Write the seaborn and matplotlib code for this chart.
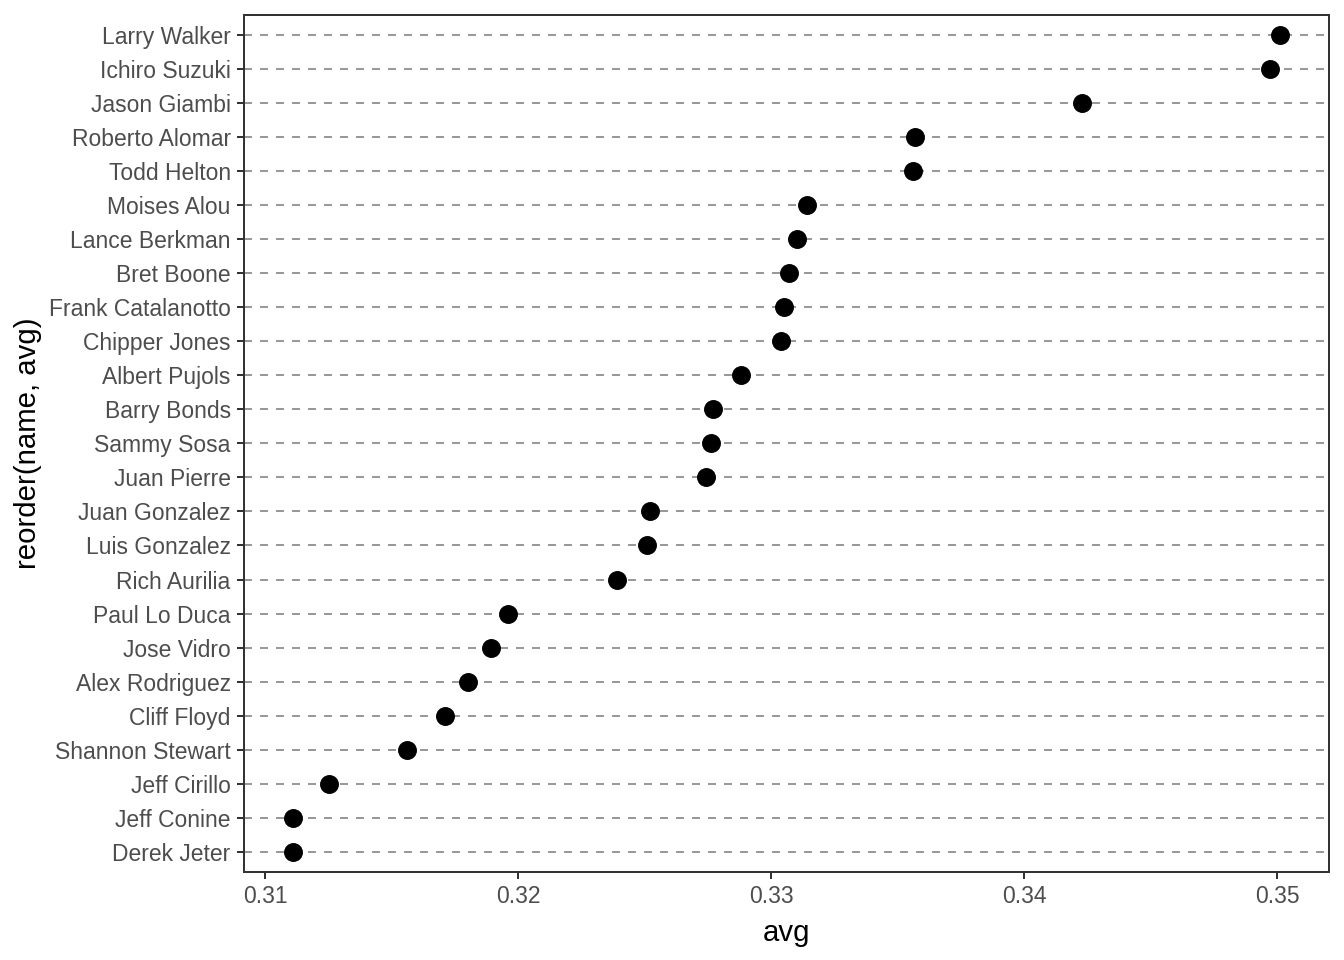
import pandas as pd
import matplotlib
matplotlib.use('Agg')
import matplotlib.pyplot as plt
import seaborn as sns

# Batting averages (top to bottom)
names = ['Larry Walker', 'Ichiro Suzuki', 'Jason Giambi', 'Roberto Alomar', 'Todd Helton',
         'Moises Alou', 'Lance Berkman', 'Bret Boone', 'Frank Catalanotto', 'Chipper Jones',
         'Albert Pujols', 'Barry Bonds', 'Sammy Sosa', 'Juan Pierre', 'Juan Gonzalez',
         'Luis Gonzalez', 'Rich Aurilia', 'Paul Lo Duca', 'Jose Vidro', 'Alex Rodriguez',
         'Cliff Floyd', 'Shannon Stewart', 'Jeff Cirillo', 'Jeff Conine', 'Derek Jeter']
avg = [0.3501, 0.3497, 0.3423, 0.3357, 0.3356,
       0.3314, 0.3310, 0.3307, 0.3305, 0.3304,
       0.3288, 0.3277, 0.3276, 0.3274, 0.3252,
       0.3251, 0.3239, 0.3196, 0.3189, 0.3180,
       0.3171, 0.3156, 0.3125, 0.3111, 0.3111]
x_ticks = [0.31, 0.32, 0.33, 0.34, 0.35]

df = pd.DataFrame({'name': names, 'avg': avg})

sns.set_style('white')
plt.rcParams['font.family'] = ['Liberation Sans', 'DejaVu Sans']

fig = plt.figure(figsize=(7, 5), dpi=192)
ax = fig.add_axes([0.1815, 0.0917, 0.9888 - 0.1815, 0.9844 - 0.0917])

# Dashed horizontal guide lines behind the points
for i in range(len(names)):
    ax.axhline(i, color='#999999', linestyle=(0, (4, 4)), linewidth=0.75, zorder=0)

sns.stripplot(data=df, x='avg', y='name', order=names, jitter=False,
              color='black', size=7.1, linewidth=0, ax=ax, zorder=3)

ax.set_xlim(0.30915, 0.35205)
ax.set_ylim(len(names) - 0.4, -0.6)
ax.set_xticks(x_ticks)
ax.set_xticklabels([f'{t:.2f}' for t in x_ticks])

ax.set_xlabel('avg', fontsize=11, color='black', labelpad=4)
ax.set_ylabel('reorder(name, avg)', fontsize=11, color='black', labelpad=2.5)
ax.tick_params(axis='both', which='both', length=2.75, width=0.75, color='#333333',
               labelsize=8.6, labelcolor='#4D4D4D', pad=2.2,
               bottom=True, left=True)

for side in ['top', 'bottom', 'left', 'right']:
    ax.spines[side].set_visible(True)
    ax.spines[side].set_color('#333333')
    ax.spines[side].set_linewidth(0.75)

ax.grid(False)
fig.savefig('out.png', dpi=192)
